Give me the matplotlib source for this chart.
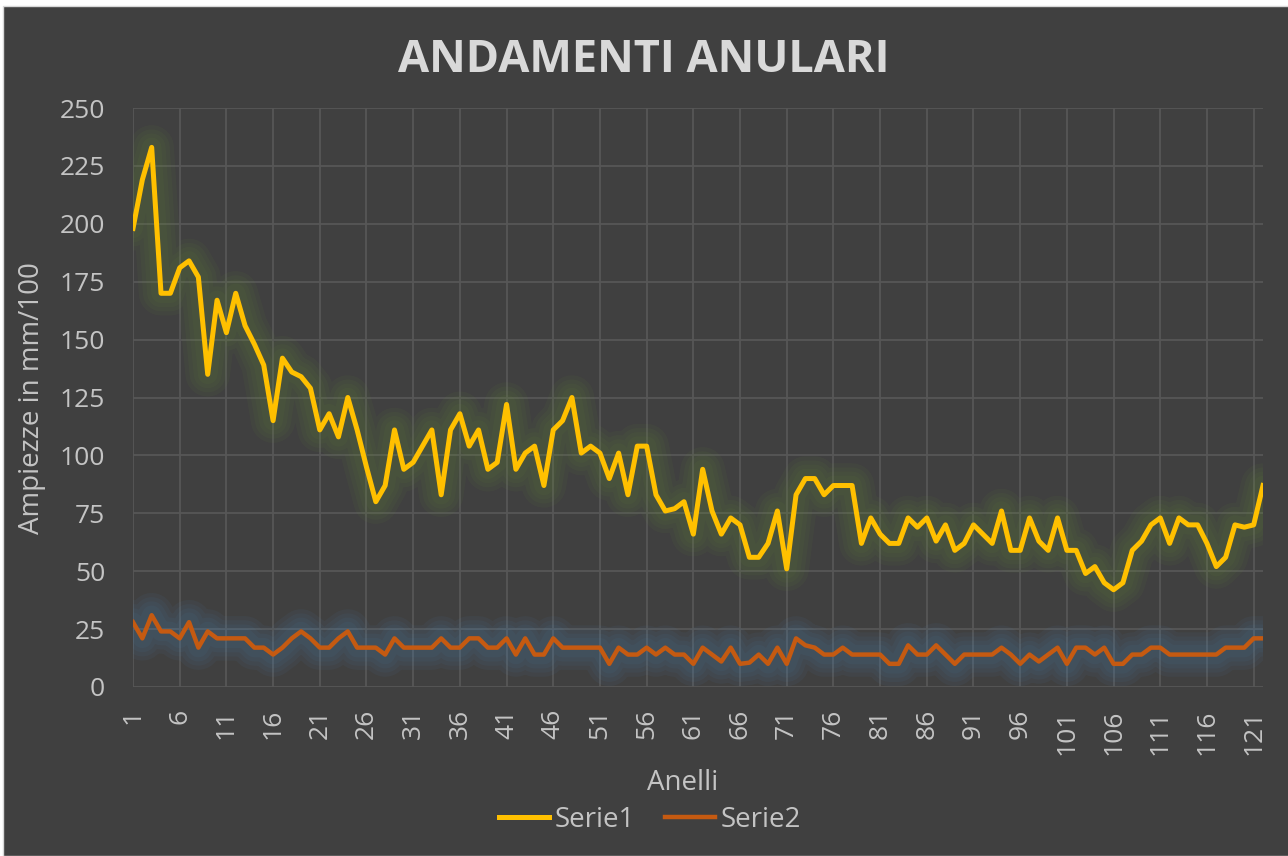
import numpy as np
import matplotlib
matplotlib.use("Agg")
import matplotlib.pyplot as plt
from matplotlib.patches import Rectangle

# dati
anelli = np.arange(1, 123)
serie1 = [198, 219, 233, 170, 170, 181, 184, 177, 135, 167,
          153, 170, 156, 148, 139, 115, 142, 136, 134, 129,
          111, 118, 108, 125, 111, 95, 80, 87, 111, 94,
          97, 104, 111, 83, 111, 118, 104, 111, 94, 97,
          122, 94, 101, 104, 87, 111, 115, 125, 101, 104,
          101, 90, 101, 83, 104, 104, 83, 76, 77, 80,
          66, 94, 76, 66, 73, 70, 56, 56, 62, 76,
          51, 83, 90, 90, 83, 87, 87, 87, 62, 73,
          66, 62, 62, 73, 69, 73, 63, 70, 59, 62,
          70, 66, 62, 76, 59, 59, 73, 63, 59, 73,
          59, 59, 49, 52, 45, 42, 45, 59, 63, 70,
          73, 62, 73, 70, 70, 62, 52, 56, 70, 69,
          70, 87]
serie2 = [28, 21, 31, 24, 24, 21, 28, 17, 24, 21,
          21, 21, 21, 17, 17, 14, 17, 21, 24, 21,
          17, 17, 21, 24, 17, 17, 17, 14, 21, 17,
          17, 17, 17, 21, 17, 17, 21, 21, 17, 17,
          21, 14, 21, 14, 14, 21, 17, 17, 17, 17,
          17, 10, 17, 14, 14, 17, 14, 17, 14, 14,
          10, 17, 14, 11, 17, 10, 10.5, 14, 10, 17,
          10, 21, 18, 17, 14, 14, 17, 14, 14, 14,
          14, 10, 10, 18, 14, 14, 18, 14, 10, 14,
          14, 14, 14, 17, 14, 10, 14, 11, 14, 17,
          10, 17, 17, 14, 17, 10, 10, 14, 14, 17,
          17, 14, 14, 14, 14, 14, 14, 17, 17, 17,
          21, 21]
xticks = list(range(1, 123, 5))
yticks = list(range(0, 251, 25))

bg = '#404040'
txt = '#c4c4c4'
plt.rcParams['font.family'] = ['Open Sans', 'DejaVu Sans']

fig = plt.figure(figsize=(12.88, 8.56), dpi=100, facecolor='white')
fig.patches.append(Rectangle((3/1288, 0), 1, 1 - 6/856, transform=fig.transFigure,
                             facecolor=bg, edgecolor='#d8d8d8', lw=1, zorder=-10))

ax = fig.add_axes([133/1288, 1 - 687/856, 1130/1288, 579/856])
ax.set_facecolor(bg)
ax.set_xlim(1, 122)
ax.set_ylim(0, 250)
ax.set_xticks(xticks)
ax.set_xticklabels([str(t) for t in xticks], rotation=90)
ax.set_yticks(yticks)
ax.grid(True, color='#575757', lw=1.3)
ax.set_axisbelow(True)
for s in ax.spines.values():
    s.set_visible(False)
ax.tick_params(length=0, colors=txt, labelsize=19)
ax.tick_params(axis='y', pad=20)
ax.tick_params(axis='x', pad=16)

# alone (glow) sotto le linee
for lw in [32, 26, 20, 14]:
    ax.plot(anelli, serie1, color='#6a8f3c', lw=lw, alpha=0.07, solid_joinstyle='round', solid_capstyle='round')
    ax.plot(anelli, serie2, color='#4f86b8', lw=lw, alpha=0.07, solid_joinstyle='round', solid_capstyle='round')

l1, = ax.plot(anelli, serie1, color='#ffc000', lw=3.6, label='Serie1', solid_joinstyle='round')
l2, = ax.plot(anelli, serie2, color='#c55a11', lw=3.2, label='Serie2', solid_joinstyle='round')

fig.text(0.5, 1 - 60/856, 'ANDAMENTI ANULARI', ha='center', va='center',
         fontsize=32.5, fontweight='bold', color='#d9d9d9')
fig.text(32/1288, 1 - 398/856, 'Ampiezze in mm/100', rotation=90, ha='center', va='center',
         fontsize=20, color=txt)
fig.text(683/1288, 1 - 783/856, 'Anelli', ha='center', va='center', fontsize=20, color=txt)

leg = fig.legend(handles=[l1, l2], loc='center', bbox_to_anchor=(650/1288, 1 - 820/856),
                 ncol=2, frameon=False, fontsize=20, handlelength=1.8, handletextpad=0.2,
                 columnspacing=1.1)
for t in leg.get_texts():
    t.set_color(txt)

fig.savefig('out.png', dpi=100, facecolor=fig.get_facecolor())
